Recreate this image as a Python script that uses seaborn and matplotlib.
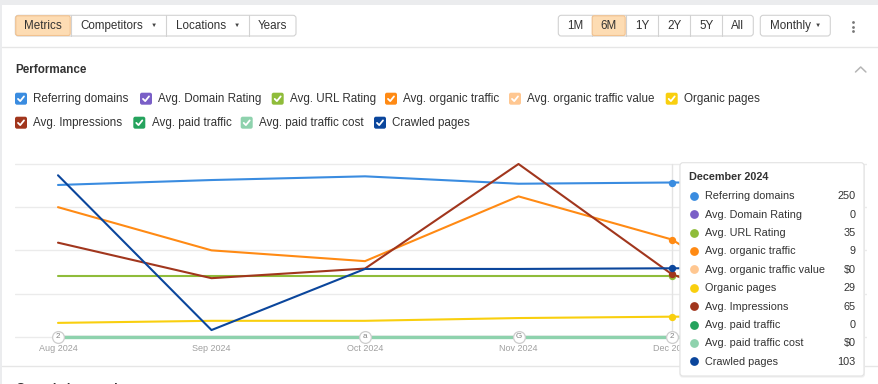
import pandas as pd
import matplotlib.pyplot as plt
from matplotlib.patches import FancyBboxPatch, Rectangle
import seaborn as sns

# Ahrefs style "Performance" chart, 6 months, hover on December 2024

months = ["Aug 2024", "Sep 2024", "Oct 2024", "Nov 2024", "Dec 2024", "Jan 2025"]
metrics = ["Referring domains", "Avg. Domain Rating", "Avg. URL Rating",
           "Avg. organic traffic", "Avg. organic traffic value", "Organic pages",
           "Avg. Impressions", "Avg. paid traffic", "Avg. paid traffic cost",
           "Crawled pages"]

referring_domains = [246, 254, 260, 248, 250, 250]
domain_rating = [0, 0, 0, 0, 0, 0]
url_rating = [35, 35, 35, 35, 35, 35]
organic_traffic = [12, 8, 7, 13, 9, 0]
organic_traffic_value = [0, 0, 0, 0, 0, 0]
organic_pages = [20, 23, 23, 27, 29, 29]
impressions = [98, 61, 71, 180, 65, 8]
paid_traffic = [0, 0, 0, 0, 0, 0]
paid_traffic_cost = [0, 0, 0, 0, 0, 0]
crawled_pages = [243, 10, 102, 102, 103, 103]

# every metric has its own hidden axis: value sitting on the top gridline
axis_top = [280, 100, 100, 16, 10, 250, 180, 10, 10, 260]
is_money = [False, False, False, False, True, False, False, False, True, False]

annotations = {0: "2", 2: "a", 3: "G", 4: "2"}
hover = 4

colors = ["#3a8ce0", "#7a5fc7", "#8fbc3a", "#ff8a14", "#ffc791",
          "#f9cf0e", "#a1361d", "#25a35d", "#8ed2ad", "#0b469c"]

series = [referring_domains, domain_rating, url_rating, organic_traffic,
          organic_traffic_value, organic_pages, impressions, paid_traffic,
          paid_traffic_cost, crawled_pages]

rows = []
for name, vals, top in zip(metrics, series, axis_top):
    for i, v in enumerate(vals):
        rows.append({"metric": name, "pos": i, "value": v, "level": v / top * 4})
df = pd.DataFrame(rows)

sns.set_style("white")
plt.rcParams["font.family"] = ["Liberation Sans", "DejaVu Sans"]

W, H = 879, 384
fig = plt.figure(figsize=(W / 100, H / 100), dpi=100)
fig.patch.set_facecolor("white")

def px_axes(zorder):
    a = fig.add_axes([0, 0, 1, 1], zorder=zorder)
    a.set_xlim(0, W)
    a.set_ylim(H, 0)
    a.axis("off")
    a.patch.set_alpha(0)
    return a

bg = px_axes(0)
TXT = "#333333"

# page frame
bg.add_patch(Rectangle((0, 0), W, 4.5, color="#ebecee", lw=0))
bg.add_patch(Rectangle((0, 0), 2, H, color="#ebecee", lw=0))
bg.plot([2, W], [47.3, 47.3], color="#e6e6e6", lw=1)
bg.plot([2, W], [366, 366], color="#e6e6e6", lw=1)

# button groups
def button_group(edges, labels, active, dropdown, y0=15.3, y1=36):
    left, right = edges[0], edges[-1]
    for k, lab in enumerate(labels):
        a, b = edges[k], edges[k + 1]
        if k == active:
            bg.add_patch(FancyBboxPatch((a + 0.5, y0 + 0.5), b - a - 1, y1 - y0 - 1,
                                        boxstyle="round,pad=0,rounding_size=2",
                                        fc="#fddcb3", ec="#f2c28f", lw=0.8, zorder=2))
        if k > 0:
            bg.plot([a, a], [y0, y1], color="#d2d2d2", lw=0.8, zorder=1)
        if dropdown[k]:
            bg.text(a + 9.7, (y0 + y1) / 2 + 0.5, lab, ha="left", va="center",
                    fontsize=8.4, color=TXT, zorder=3)
            bg.text(b - 12.5, (y0 + y1) / 2, "▼", ha="center", va="center",
                    fontsize=4.5, color="#444444", zorder=3)
        else:
            bg.text((a + b) / 2, (y0 + y1) / 2 + 0.5, lab, ha="center", va="center",
                    fontsize=8.4, color=TXT, zorder=3)
    bg.add_patch(FancyBboxPatch((left, y0), right - left, y1 - y0,
                                boxstyle="round,pad=0,rounding_size=3",
                                fc="none", ec="#d2d2d2", lw=0.8, zorder=1))

button_group([15.3, 70.7, 166.3, 249.3, 296],
             ["Metrics", "Competitors", "Locations", "Years"], 0,
             [False, True, True, False])
button_group([558.3, 591.7, 625.7, 658.3, 690, 722.3, 753.3],
             ["1M", "6M", "1Y", "2Y", "5Y", "All"], 1, [False] * 6)
button_group([760.3, 830.3], ["Monthly"], -1, [True])

bg.scatter([852.7] * 3, [22.3, 26.7, 31.1], s=4, color="#777777", lw=0)

bg.text(15.7, 70, "Performance", ha="left", va="center", fontsize=8.4,
        fontweight="bold", color=TXT)
bg.plot([855.5, 860.7, 865.9], [72, 67, 72], color="#b5b5b5", lw=1.1)

# legend with check boxes
legend_x = [15, 140, 271.7, 385, 509, 665.7, 15, 133.3, 240.7, 374]
legend_y = [98.7] * 6 + [122.7] * 4
for name, color, x, y in zip(metrics, colors, legend_x, legend_y):
    bg.add_patch(FancyBboxPatch((x, y - 6), 12, 12,
                                boxstyle="round,pad=0,rounding_size=2",
                                fc=color, ec="none"))
    bg.plot([x + 3, x + 5.2, x + 9], [y + 0.2, y + 2.4, y - 2.3],
            color="white", lw=1.3, solid_capstyle="round")
    bg.text(x + 18.3, y + 0.5, name, ha="left", va="center", fontsize=8.4, color=TXT)

# next section title, only its top edge shows at the bottom of the view
bg.text(16, 383.2, "Organic keywords", ha="left", va="top", fontsize=9,
        fontweight="bold", color=TXT)

# chart
x_left, x_right = 15, 867
y_top, y_bot = 164 - 0.1 * 43.2, 336.7 + 0.1 * 43.2
ax = fig.add_axes([x_left / W, 1 - y_bot / H, (x_right - x_left) / W,
                   (y_bot - y_top) / H], zorder=1)
ax.patch.set_alpha(0)

for name, color in zip(metrics, colors):
    sub = df[df["metric"] == name]
    lw = 2.4 if name == "Avg. paid traffic cost" else 1.5
    sns.lineplot(data=sub, x="pos", y="level", ax=ax, color=color, lw=lw,
                 legend=False, zorder=3)

for name, color in zip(metrics, colors):
    pt = df[(df["metric"] == name) & (df["pos"] == hover)]
    ax.scatter(pt["pos"], pt["level"], s=28, color=color, lw=0, zorder=4)

ax.plot([hover, hover], [0, 4], color="#e3e3e3", lw=1, zorder=1)

for idx, lab in annotations.items():
    ax.scatter(idx, 0, s=72, facecolor="white", edgecolor="#cdcdcd", lw=0.9,
               zorder=6, clip_on=False)
    ax.text(idx, 0.005, lab, ha="center", va="center", fontsize=5.8,
            color="#808080", zorder=7)

ax.set_xlim((x_left - 58) / 153.5, (x_right - 58) / 153.5)
ax.set_ylim(-0.1, 4.1)
ax.set_yticks(range(5))
ax.set_xticks(range(len(months)), months)
ax.grid(axis="y", color="#ebebeb", lw=1, zorder=0)
ax.grid(axis="x", visible=False)
ax.tick_params(axis="y", left=False, labelleft=False)
ax.tick_params(axis="x", length=0, labelsize=6.5, colors="#a0a0a0", pad=2.5)
ax.set_xlabel("")
ax.set_ylabel("")
sns.despine(ax=ax, left=True, bottom=True)

# tooltip for the hovered month
ov = px_axes(5)
tx0, ty0, tx1, ty1 = 680, 162.7, 864, 376
ov.add_patch(FancyBboxPatch((tx0 - 0.5, ty0 + 0.8), tx1 - tx0 + 1.5, ty1 - ty0 + 0.8,
                            boxstyle="round,pad=0,rounding_size=3",
                            fc="#f0f0f0", ec="none"))
ov.add_patch(FancyBboxPatch((tx0, ty0), tx1 - tx0, ty1 - ty0,
                            boxstyle="round,pad=0,rounding_size=3",
                            fc="white", ec="#e2e2e2", lw=0.8))
title = pd.to_datetime(months[hover], format="%b %Y").strftime("%B %Y")
ov.text(689, 176.7, title, ha="left", va="center", fontsize=7.8,
        fontweight="bold", color=TXT)
for i, (name, color, vals, money) in enumerate(zip(metrics, colors, series, is_money)):
    y = 196 + i * 18.37
    ov.scatter(694, y, s=40, color=color, lw=0)
    ov.text(705, y + 0.3, name, ha="left", va="center", fontsize=7.8, color=TXT)
    val = f"${vals[hover]}" if money else f"{vals[hover]}"
    ov.text(855.5, y + 0.3, val, ha="right", va="center", fontsize=7.8, color=TXT)

fig.savefig("out.png", dpi=100)
